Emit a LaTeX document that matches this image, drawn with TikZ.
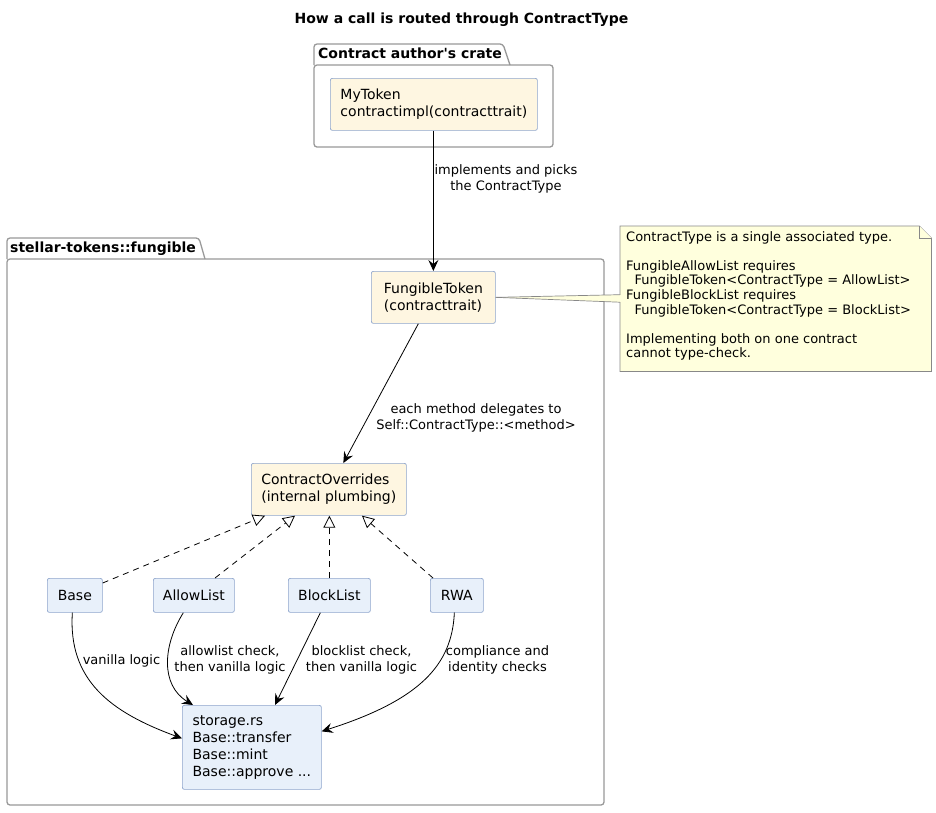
\documentclass[tikz,border=0pt]{standalone}
\usepackage{fontspec}
\setmainfont{DejaVu Sans}
\usetikzlibrary{arrows.meta,calc}
\definecolor{creamc}{HTML}{FEF6E1}
\definecolor{bluec}{HTML}{E8F0FA}
\definecolor{bordc}{HTML}{8EA5CC}
\definecolor{pkgc}{HTML}{999999}
\definecolor{notec}{HTML}{FFFFDD}
\definecolor{notebc}{HTML}{888888}
\begin{document}
\begin{tikzpicture}[x=1pt,y=-1pt,
  box/.style={draw=bordc, line width=0.7pt, rounded corners=2pt, align=left, inner sep=0pt, anchor=north west, font=\fontsize{14}{17}\selectfont},
  creambox/.style={box, fill=creamc},
  bluebox/.style={box, fill=bluec},
  pkg/.style={draw=pkgc, line width=1.3pt, rounded corners=3pt},
  pkglabel/.style={anchor=base west, font=\fontsize{14}{17}\selectfont\bfseries, inner sep=0pt},
  lbl/.style={font=\fontsize{13}{16}\selectfont, align=center, inner sep=0pt},
  flow/.style={draw=black, line width=0.8pt, -{Stealth[length=11pt,width=10pt,inset=4pt]}},
  realize/.style={draw=black, line width=0.8pt, dash pattern=on 6pt off 5pt, -{Triangle[open,length=12pt,width=12pt,fill=white]}},
  notebox/.style={draw=notebc, fill=notec, line width=0.7pt},
]
\useasboundingbox (0,0) rectangle (936,812);
\fill[white] (0,0) rectangle (936,812);

% title
\node[font=\fontsize{14}{17}\selectfont\bfseries, anchor=base, inner sep=0pt] (title) at (461.5,23) {How a call is routed through ContractType};

% package 1
\draw[pkg] (314,65) -- (314,44) -- (503,44) -- (510,65);
\draw[pkg] (314,65) rectangle (553,147);
\node[pkglabel] (pkgA) at (318,58) {Contract author\textquotesingle s crate};

% package 2
\draw[pkg] (7,259) -- (7,238) -- (199,238) -- (205,259);
\draw[pkg] (7,259) rectangle (604,805);
\node[pkglabel] (pkgB) at (10,252) {stellar-tokens::fungible};

% classes
\node[creambox, minimum width=207pt, minimum height=52pt] (mytoken) at (330,78) {MyToken\\contractimpl(contracttrait)};
\node[creambox, minimum width=124pt, minimum height=52pt] (fungible) at (371,271) {FungibleToken\\(contracttrait)};
\node[creambox, minimum width=155pt, minimum height=52pt] (overrides) at (251,463) {ContractOverrides\\(internal plumbing)};
\node[bluebox, minimum width=55pt, minimum height=34pt] (base) at (47,578) {Base};
\node[bluebox, minimum width=81pt, minimum height=34pt] (allow) at (153,578) {AllowList};
\node[bluebox, minimum width=82pt, minimum height=34pt] (block) at (288,578) {BlockList};
\node[bluebox, minimum width=53pt, minimum height=34pt] (rwa) at (430,578) {RWA};
\node[bluebox, minimum width=139pt, minimum height=84pt] (storage) at (182,705) {storage.rs\\Base::transfer\\Base::mint\\Base::approve ...};

% note
\node[minimum width=311pt, minimum height=145pt, inner sep=0pt, anchor=north west] (note) at (620,226) {};
\draw[notebox] (note.north west) -- ([xshift=-12pt]note.north east) -- ([yshift=-12pt]note.north east) -- (note.south east) -- (note.south west) -- cycle;
\draw[notebox] ([xshift=-12pt]note.north east) -- ([xshift=-12pt,yshift=-12pt]note.north east) -- ([yshift=-12pt]note.north east);
\node[anchor=north west, align=left, inner sep=0pt, font=\fontsize{13}{14.6}\selectfont] (notetext) at (626,231)
{ContractType is a single associated type.\\[14.6pt]
FungibleAllowList requires\\
\hspace*{8.3pt}FungibleToken<ContractType = AllowList>\\
FungibleBlockList requires\\
\hspace*{8.3pt}FungibleToken<ContractType = BlockList>\\[14.6pt]
Implementing both on one contract\\
cannot type-check.};
\fill[notec] ([xshift=-2pt,yshift=3.5pt]note.west) rectangle ([xshift=1pt,yshift=-3.5pt]note.west);
\fill[notec] (fungible.east) -- ([yshift=4pt]note.west) -- ([yshift=-3.5pt]note.west) -- cycle;
\draw[notebc, line width=0.7pt] (fungible.east) -- ([yshift=4pt]note.west);
\draw[notebc, line width=0.7pt] (fungible.east) -- ([yshift=-3.5pt]note.west);

% flows
\draw[flow] (fungible.north |- mytoken.south) -- (fungible.north);
\node[lbl] (lA) at (506,179) {implements and picks\\the ContractType};
\draw[flow] ([xshift=-15pt]fungible.south) -- ([xshift=14.5pt]overrides.north);
\node[lbl] (lB) at (476,418) {each method delegates to\\Self::ContractType::<method>};

% realizations
\draw[realize] ([yshift=-5pt]base.north east) -- ([xshift=14pt]overrides.south west);
\draw[realize] ([xshift=62pt]allow.north west) -- ([xshift=44pt]overrides.south west);
\draw[realize] (block.north) -- (block.north |- overrides.south);
\draw[realize] ([xshift=3pt]rwa.north west) -- ([xshift=111pt]overrides.south west);

% to storage
\draw[flow] ([xshift=-2.5pt]base.south) .. controls (68,680) and (110,712) .. ([yshift=9pt]storage.west);
\node[lbl] (lbase) at (121.5,661) {vanilla logic};
\draw[flow] ([xshift=-10.5pt]allow.south) .. controls (163,645) and (160,685) .. ([xshift=11pt]storage.north west);
\node[lbl] (lallow) at (230,659.5) {allowlist check,\\then vanilla logic};
\draw[flow] ([xshift=-9pt]block.south) -- ([xshift=93pt]storage.north west);
\node[lbl] (lblock) at (361.5,659.5) {blocklist check,\\then vanilla logic};
\draw[flow] ([xshift=-2.5pt]rwa.south) .. controls (452,665) and (420,700) .. ([yshift=16pt]storage.east);
\node[lbl] (lrwa) at (497.5,659.5) {compliance and\\identity checks};
\end{tikzpicture}
\end{document}
